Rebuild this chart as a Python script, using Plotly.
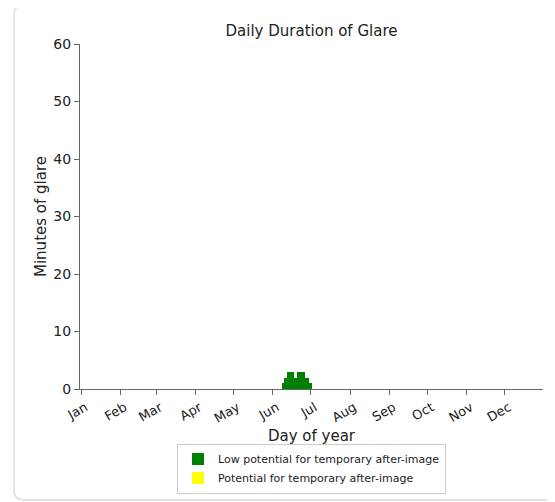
import plotly.graph_objects as go

# day-of-year and minutes of glare
glare_days = list(range(160, 183))
low_minutes = [1, 1, 2, 2, 3, 3, 3, 3, 3, 2, 2, 2, 3, 3, 3, 3, 3, 3, 2, 2, 2, 1, 1]
high_minutes = [0] * len(glare_days)

month_days = [1, 32, 60, 91, 121, 152, 182, 213, 244, 274, 305, 335]
month_labels = ["Jan", "Feb", "Mar", "Apr", "May", "Jun",
                "Jul", "Aug", "Sep", "Oct", "Nov", "Dec"]

font_family = "DejaVu Sans, Liberation Sans, sans-serif"
axis_color = "#666666"

fig = go.Figure()
fig.add_trace(go.Bar(
    x=glare_days, y=low_minutes, width=1,
    marker=dict(color="#008000", line=dict(width=0)),
    name="Low potential for temporary after-image"
))
fig.add_trace(go.Bar(
    x=glare_days, y=high_minutes, width=1,
    marker=dict(color="#ffff00", line=dict(width=0)),
    name="Potential for temporary after-image"
))

# rounded card border round the whole figure (pixel offsets from plot origin)
card = ("M -56,384 L 486,384 Q 496,384 496,374 L 496,-101 Q 496,-111 486,-111 "
        "L -56,-111 Q -66,-111 -66,-101 L -66,374 Q -66,384 -56,384 Z")
fig.add_shape(type="path", path=card, xref="paper", yref="paper",
              xsizemode="pixel", ysizemode="pixel", xanchor=0, yanchor=0,
              line=dict(color="#dddddd", width=1.5), layer="below")

# the page body has an 8px margin, so margins are offset by 8px
fig.update_layout(
    width=555, height=502,
    margin=dict(l=72, r=20, t=36, b=121, autoexpand=False),
    paper_bgcolor="white", plot_bgcolor="white",
    barmode="overlay", bargap=0,
    font=dict(family=font_family, color="#222222"),
    title=dict(text="Daily Duration of Glare", x=0.5, xref="paper",
               y=1 - 23 / 502, yref="container", yanchor="middle",
               font=dict(size=15), automargin=False),
    xaxis=dict(range=[0, 365], tickvals=month_days, ticktext=month_labels,
               tickangle=-30, tickfont=dict(size=13), automargin=False,
               ticklabelshift=4,
               showgrid=False, zeroline=False, showline=True,
               linecolor=axis_color, linewidth=1,
               ticks="outside", ticklen=5, tickcolor=axis_color,
               title=dict(text="Day of year", font=dict(size=15), standoff=5)),
    yaxis=dict(range=[0, 60], tickvals=[0, 10, 20, 30, 40, 50, 60],
               tickfont=dict(size=14), automargin=False,
               showgrid=False, zeroline=False, showline=True,
               linecolor=axis_color, linewidth=1,
               ticks="outside", ticklen=5, tickcolor=axis_color,
               title=dict(text="Minutes of glare", font=dict(size=15), standoff=3)),
    showlegend=True,
    legend=dict(x=0.5, xanchor="center", y=-0.158, yanchor="top",
                orientation="v", traceorder="normal",
                bordercolor="#cccccc", borderwidth=1, bgcolor="white",
                font=dict(size=11), tracegroupgap=0),
)

fig.write_html("out.html")
